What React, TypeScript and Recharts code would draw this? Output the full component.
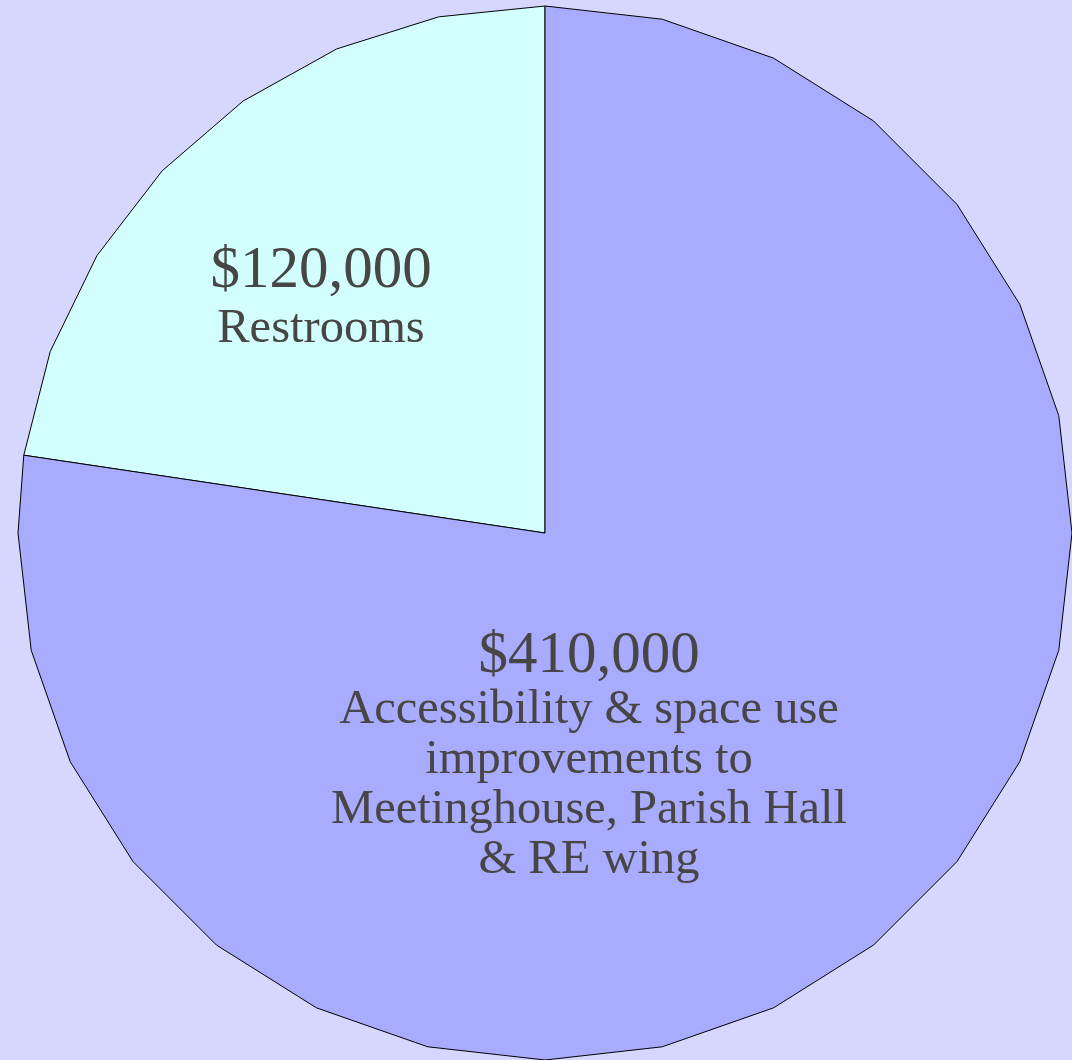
import React from 'react';
import { PieChart, Pie, Cell } from 'recharts';

const categories = ['Restrooms', 'Accessibility & space use improvements'];
const amounts = [120000, 410000];
const valueLabels = ['$120,000', '$410,000'];
const nameLines = [
  ['Restrooms'],
  ['Accessibility & space use', 'improvements to', 'Meetinghouse, Parish Hall', '& RE wing'],
];

const COLORS = ['#d3fefe', '#a9acfe'];
const BG = '#d5d7fe';
const TEXT = '#464646';
const FONT = '"Liberation Serif", "Times New Roman", serif';

// label anchor, relative to the pie centre (baseline of the value line)
const LABEL_OFFSETS = [
  { dx: -224, dy: -246, gap: 55 },
  { dx: 44, dy: 139, gap: 51 },
];

const STEP = 360 / 28;

const polar = (cx: number, cy: number, r: number, a: number) => ({
  x: cx + r * Math.cos((a * Math.PI) / 180),
  y: cy - r * Math.sin((a * Math.PI) / 180),
});

// the original draws the circle as a coarse polygon
function PolySector(props: any) {
  const { cx, cy, outerRadius, startAngle, endAngle, fill } = props;
  const span = endAngle - startAngle;
  const angles: number[] = [];
  if (Math.abs(span) < 180) {
    const n = Math.ceil(Math.abs(span) / STEP);
    for (let i = 0; i <= n; i++) angles.push(startAngle + (span * i) / n);
  } else {
    const dir = Math.sign(span);
    angles.push(startAngle);
    const rest: number[] = [];
    for (let a = endAngle; dir * (a - startAngle) > 0.01; a -= dir * STEP) rest.push(a);
    angles.push(...rest.reverse());
  }
  const pts = angles.map((a) => polar(cx, cy, outerRadius, a));
  const d =
    `M${cx},${cy} ` + pts.map((p) => `L${p.x.toFixed(2)},${p.y.toFixed(2)}`).join(' ') + ' Z';
  return <path d={d} fill={fill} stroke="#000" strokeWidth={1} strokeLinejoin="miter" />;
}

function renderLabel(props: any) {
  const { cx, cy, index } = props;
  const off = LABEL_OFFSETS[index];
  const x = cx + off.dx;
  const y = cy + off.dy;
  return (
    <text x={x} y={y} textAnchor="middle" fill={TEXT} fontFamily={FONT}>
      <tspan x={x} y={y} fontSize={59}>
        {valueLabels[index]}
      </tspan>
      {nameLines[index].map((line, i) => (
        <tspan key={i} x={x} y={y + off.gap + i * 50} fontSize={48.5}>
          {line}
        </tspan>
      ))}
    </text>
  );
}

export default function App() {
  const data = categories.map((name, i) => ({ name, value: amounts[i] }));

  return (
    <div style={{ width: 1072, height: 1060, background: BG, overflow: 'hidden' }}>
      <style>{'body { margin: 0; }'}</style>
      <PieChart width={1072} height={1060} margin={{ top: 0, right: 0, bottom: 0, left: 0 }}>
        <Pie
          data={data}
          dataKey="value"
          cx={545}
          cy={533}
          innerRadius={0}
          outerRadius={527}
          startAngle={90}
          endAngle={450}
          paddingAngle={0}
          stroke="#000"
          shape={PolySector}
          label={renderLabel}
          labelLine={false}
          isAnimationActive={false}
        >
          {data.map((entry, index) => (
            <Cell key={`cell-${index}`} fill={COLORS[index]} />
          ))}
        </Pie>
      </PieChart>
    </div>
  );
}
